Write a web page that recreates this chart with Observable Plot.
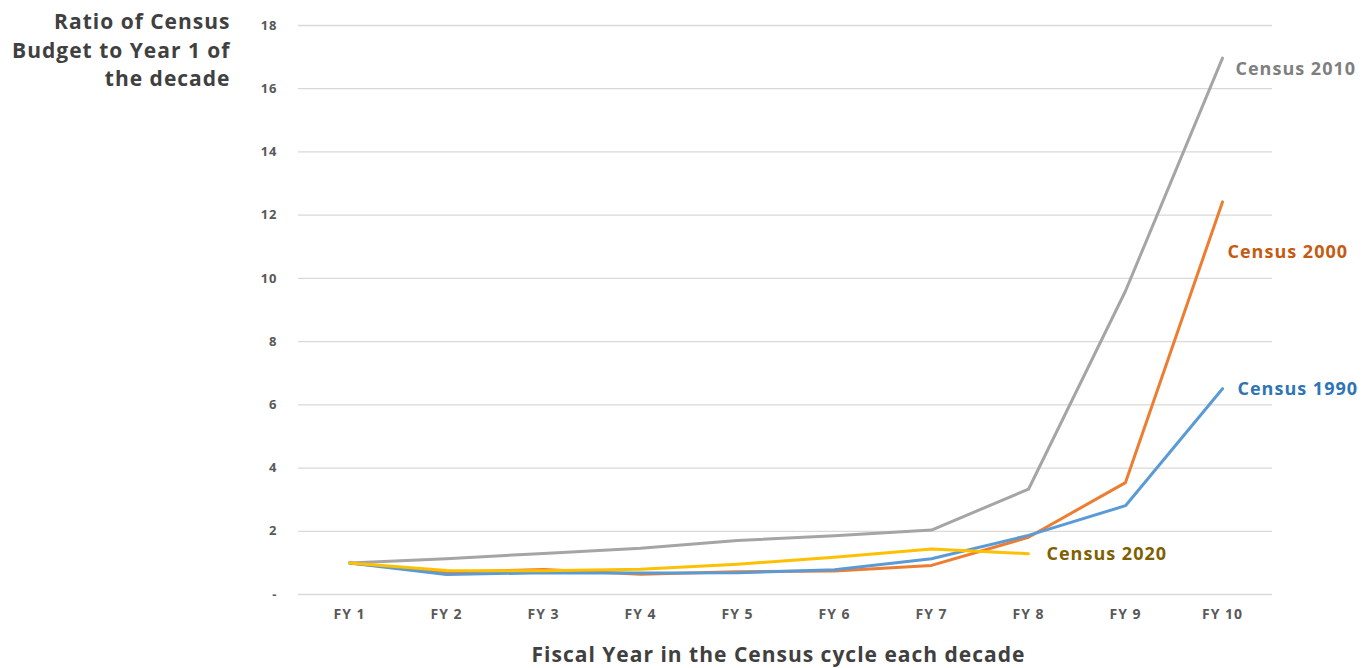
<!DOCTYPE html>
<html>
<head>
<meta charset="utf-8">
<script src="https://cdn.jsdelivr.net/npm/d3@7"></script>
<script src="https://cdn.jsdelivr.net/npm/@observablehq/plot@0.6"></script>
<style>
  html, body { margin: 0; padding: 0; background: #fff; }
  #chart svg { display: block; }
</style>
</head>
<body>
<div id="chart"></div>
<script>
// Fiscal years of a decennial census cycle
const fiscalYears = ["FY 1", "FY 2", "FY 3", "FY 4", "FY 5", "FY 6", "FY 7", "FY 8", "FY 9", "FY 10"];

// Census budget in each fiscal year, as a ratio to the first year of the decade
const census1990 = [1.0, 0.63, 0.69, 0.68, 0.69, 0.78, 1.13, 1.87, 2.81, 6.51];
const census2000 = [1.0, 0.70, 0.79, 0.64, 0.72, 0.74, 0.92, 1.81, 3.54, 12.42];
const census2010 = [1.0, 1.13, 1.30, 1.46, 1.71, 1.86, 2.04, 3.33, 9.60, 16.97];
const census2020 = [1.0, 0.76, 0.75, 0.80, 0.96, 1.18, 1.44, 1.29];

const seriesNames = ["Census 2010", "Census 2000", "Census 1990", "Census 2020"];
const seriesValues = [census2010, census2000, census1990, census2020];

const yTicks = [0, 2, 4, 6, 8, 10, 12, 14, 16, 18];

// Styling per series: line colour, label colour, label offset from the last point
const style = {
  "Census 2010": {line: "#a5a5a5", text: "#7f7f7f", dx: 13, dy: 11},
  "Census 2000": {line: "#ed7d31", text: "#c55a11", dx: 5, dy: 50},
  "Census 1990": {line: "#5b9bd5", text: "#2e75b6", dx: 15, dy: 1},
  "Census 2020": {line: "#ffc000", text: "#7f6000", dx: 18, dy: 1}
};

const rows = seriesNames.flatMap((name, i) =>
  seriesValues[i].map((v, j) => ({series: name, year: fiscalYears[j], ratio: v}))
);
const ends = seriesNames.map((name, i) => {
  const vals = seriesValues[i];
  return {series: name, year: fiscalYears[vals.length - 1], ratio: vals[vals.length - 1]};
});

const font = "'Open Sans', 'DejaVu Sans', sans-serif";

const chart = Plot.plot({
  width: 1365,
  height: 668,
  marginLeft: 298,
  marginRight: 93,
  marginTop: 25,
  marginBottom: 74,
  style: {fontFamily: font, background: "#fff", letterSpacing: "1px"},
  x: {type: "point", domain: fiscalYears, padding: 0.5, label: null},
  y: {domain: [0, 18], label: null},
  marks: [
    Plot.gridY(yTicks, {stroke: "#d9d9d9", strokeOpacity: 1, strokeWidth: 1.3}),
    Plot.axisY(yTicks, {
      tickSize: 0,
      tickPadding: 21,
      tickFormat: d => d === 0 ? "-" : String(d),
      fontSize: 13,
      fontWeight: "bold",
      fill: "#595959",
      label: null
    }),
    Plot.axisX({
      tickSize: 0,
      tickPadding: 15,
      fontSize: 14,
      fontWeight: "bold",
      fill: "#595959",
      label: null
    }),
    ...seriesNames.map(name =>
      Plot.line(rows.filter(r => r.series === name), {
        x: "year", y: "ratio",
        stroke: style[name].line,
        strokeWidth: 3,
        strokeLinejoin: "round"
      })
    ),
    ...ends.map(e =>
      Plot.text([e], {
        x: "year", y: "ratio",
        text: "series",
        textAnchor: "start",
        dx: style[e.series].dx,
        dy: style[e.series].dy,
        fill: style[e.series].text,
        fontSize: 18,
        fontWeight: "bold"
      })
    ),
    // y axis title
    Plot.text(["Ratio of Census\nBudget to Year 1 of\nthe decade"], {
      frameAnchor: "top-left",
      textAnchor: "end",
      lineAnchor: "middle",
      lineHeight: 1.36,
      dx: -68,
      dy: 23,
      fontSize: 21,
      fontWeight: "bold",
      fill: "#404040"
    }),
    // x axis title
    Plot.text(["Fiscal Year in the Census cycle each decade"], {
      frameAnchor: "bottom",
      lineAnchor: "middle",
      dx: -7,
      dy: 61,
      fontSize: 21,
      fontWeight: "bold",
      fill: "#404040"
    })
  ]
});

document.getElementById("chart").append(chart);
</script>
</body>
</html>
